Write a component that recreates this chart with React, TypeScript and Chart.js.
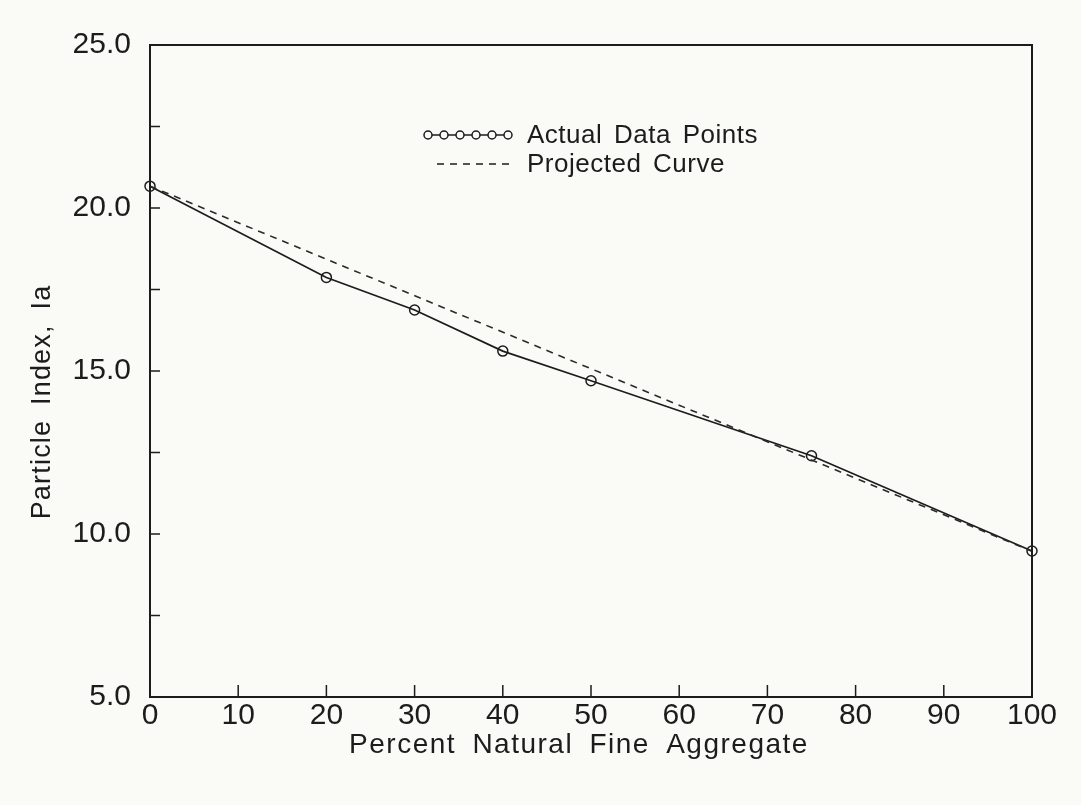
import React, { useEffect, useRef } from "react";
import { Chart, registerables } from "chart.js";

Chart.register(...registerables);

// Measured particle index at each blend of natural fine aggregate
const percentNatural = [0, 20, 30, 40, 50, 75, 100];
const particleIndex = [20.67, 17.87, 16.87, 15.61, 14.7, 12.4, 9.48];

// Straight projection between the two pure blends
const projectedX = [0, 100];
const projectedY = [20.67, 9.47];

const xTickValues = [0, 10, 20, 30, 40, 50, 60, 70, 80, 90, 100];
const yTickValues = [5, 7.5, 10, 12.5, 15, 17.5, 20, 22.5, 25];
const yLabelValues = [5, 10, 15, 20, 25];

const legendLabels = ["Actual Data Points", "Projected Curve"];
const xTitle = "Percent Natural Fine Aggregate";
const yTitle = "Particle Index, Ia";

const FONT = "'Liberation Sans', Arial, sans-serif";
const INK = "#1c1c1c";
const PAPER = "#fafbf7";

const decorPlugin = {
  id: "plotDecor",
  beforeDraw(chart: any) {
    const { ctx, width, height } = chart;
    ctx.save();
    ctx.fillStyle = PAPER;
    ctx.fillRect(0, 0, width, height);
    ctx.restore();
  },
  afterDraw(chart: any) {
    const { ctx, chartArea } = chart;
    const xs = chart.scales.x;
    const ys = chart.scales.y;
    const { left, right, top, bottom } = chartArea;
    ctx.save();

    // frame
    ctx.strokeStyle = INK;
    ctx.lineWidth = 2;
    ctx.strokeRect(left, top, right - left, bottom - top);

    // inward tick marks
    ctx.lineWidth = 1.5;
    ctx.beginPath();
    xTickValues.forEach((v) => {
      if (v === 0 || v === 100) return;
      const px = xs.getPixelForValue(v);
      ctx.moveTo(px, bottom);
      ctx.lineTo(px, bottom - 12);
    });
    yTickValues.forEach((v) => {
      if (v === 5 || v === 25) return;
      const py = ys.getPixelForValue(v);
      ctx.moveTo(left, py);
      ctx.lineTo(left + 10, py);
    });
    ctx.stroke();

    // axis titles
    ctx.fillStyle = INK;
    ctx.font = `28px ${FONT}`;
    ctx.textBaseline = "middle";
    ctx.textAlign = "center";
    (ctx as any).letterSpacing = "1.5px";
    (ctx as any).wordSpacing = "7px";
    ctx.fillText(xTitle, 579, 745);

    ctx.save();
    ctx.translate(43, 402);
    ctx.rotate(-Math.PI / 2);
    ctx.font = `27px ${FONT}`;
    (ctx as any).letterSpacing = "1.2px";
    (ctx as any).wordSpacing = "6px";
    ctx.fillText(yTitle, 0, 0);
    ctx.restore();

    // legend
    const rowY = [135, 164];
    ctx.font = `26px ${FONT}`;
    ctx.textAlign = "left";
    (ctx as any).letterSpacing = "0.5px";
    (ctx as any).wordSpacing = "4px";
    ctx.fillText(legendLabels[0], 527, rowY[0] + 1);
    ctx.fillText(legendLabels[1], 527, rowY[1] + 1);

    ctx.lineWidth = 1.5;
    ctx.beginPath();
    ctx.moveTo(428, rowY[0]);
    ctx.lineTo(508, rowY[0]);
    ctx.stroke();
    for (let i = 0; i < 6; i++) {
      ctx.beginPath();
      ctx.fillStyle = PAPER;
      ctx.arc(428 + i * 16, rowY[0], 4, 0, Math.PI * 2);
      ctx.fill();
      ctx.stroke();
    }
    ctx.setLineDash([7, 6]);
    ctx.beginPath();
    ctx.moveTo(437, rowY[1]);
    ctx.lineTo(510, rowY[1]);
    ctx.stroke();

    ctx.restore();
  },
};

export default function App() {
  const canvasRef = useRef<HTMLCanvasElement | null>(null);

  useEffect(() => {
    document.body.style.margin = "0";
    const canvas = canvasRef.current;
    if (!canvas) return;

    const chart = new Chart(canvas, {
      type: "scatter",
      data: {
        datasets: [
          {
            label: legendLabels[1],
            data: projectedX.map((x, i) => ({ x, y: projectedY[i] })),
            showLine: true,
            borderColor: "#2a2a2a",
            borderWidth: 1.6,
            borderDash: [7, 6],
            pointRadius: 0,
            clip: false,
          },
          {
            label: legendLabels[0],
            data: percentNatural.map((x, i) => ({ x, y: particleIndex[i] })),
            showLine: true,
            borderColor: INK,
            borderWidth: 1.7,
            pointRadius: 5,
            pointBorderWidth: 1.5,
            pointBorderColor: INK,
            pointBackgroundColor: "rgba(0,0,0,0)",
            clip: false,
          },
        ],
      },
      options: {
        responsive: false,
        animation: false,
        layout: { padding: { top: 45, right: 49, left: 0, bottom: 0 } },
        plugins: { legend: { display: false }, tooltip: { enabled: false } },
        scales: {
          x: {
            type: "linear",
            min: 0,
            max: 100,
            afterBuildTicks: (s: any) => {
              s.ticks = xTickValues.map((value) => ({ value }));
            },
            afterFit: (s: any) => {
              s.height = 108;
            },
            ticks: {
              color: INK,
              font: { family: FONT, size: 30 },
              padding: 1,
              maxRotation: 0,
              autoSkip: false,
            },
            grid: { display: false, drawTicks: false },
            border: { display: false },
          },
          y: {
            type: "linear",
            min: 5,
            max: 25,
            afterBuildTicks: (s: any) => {
              s.ticks = yTickValues.map((value) => ({ value }));
            },
            afterFit: (s: any) => {
              s.width = 150;
            },
            ticks: {
              color: INK,
              font: { family: FONT, size: 30 },
              padding: 19,
              autoSkip: false,
              callback: (v: any) =>
                yLabelValues.includes(Number(v)) ? Number(v).toFixed(1) : "",
            },
            grid: { display: false, drawTicks: false },
            border: { display: false },
          },
        },
      },
      plugins: [decorPlugin],
    });

    return () => chart.destroy();
  }, []);

  return (
    <div style={{ position: "absolute", left: 0, top: 0, width: 1081, height: 805, background: PAPER }}>
      <canvas ref={canvasRef} width={1081} height={805} />
    </div>
  );
}
